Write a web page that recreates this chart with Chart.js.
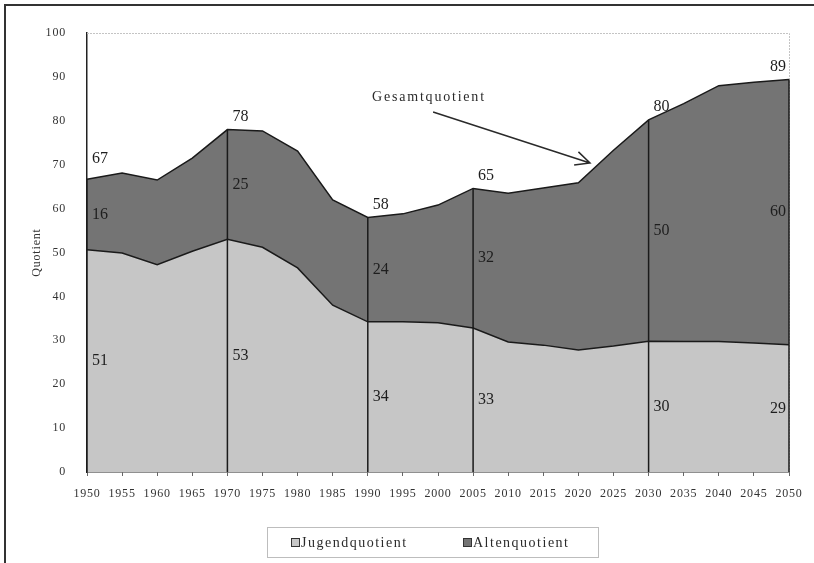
<!DOCTYPE html>
<html>
<head>
<meta charset="utf-8">
<script src="https://cdn.jsdelivr.net/npm/chart.js@4.4.1/dist/chart.umd.min.js"></script>
<style>
  html, body { margin: 0; padding: 0; background: #fff; }
  #wrap { position: relative; width: 814px; height: 563px; }
</style>
</head>
<body>
<div id="wrap"><canvas id="quotient-chart" width="814" height="563"></canvas></div>
<script>
const years = ["1950", "1955", "1960", "1965", "1970", "1975", "1980", "1985", "1990", "1995", "2000",
  "2005", "2010", "2015", "2020", "2025", "2030", "2035", "2040", "2045", "2050"];
const jugend = [50.6, 49.9, 47.2, 50.3, 53.0, 51.2, 46.5, 38.0, 34.2, 34.2, 34.0,
  32.8, 29.6, 28.9, 27.8, 28.7, 29.8, 29.7, 29.7, 29.4, 29.0];
const alten = [16.1, 18.2, 19.3, 21.2, 25.0, 26.5, 26.6, 24.0, 23.8, 24.6, 26.8,
  31.8, 33.9, 35.8, 38.1, 44.6, 50.4, 54.2, 58.3, 59.4, 60.4];
const markYears = ["1950", "1970", "1990", "2005", "2030", "2050"];
const seriesNames = ["Jugendquotient", "Altenquotient"];
const arrowText = "Gesamtquotient";

const lightFill = "#c6c6c6";
const darkFill = "#747474";
const serif = "'Liberation Serif', 'DejaVu Serif', serif";

Chart.defaults.font.family = serif;
Chart.defaults.color = "#333";

// labels, marker lines, arrow, legend
const annotations = {
  id: "annotations",
  beforeDraw(chart) {
    chart.ctx.letterSpacing = "0.8px";
  },
  afterDraw(chart) {
    const { ctx, chartArea: a, scales: { x, y } } = chart;
    ctx.save();

    // light frame top/right of plot
    ctx.strokeStyle = "#c4c4c4";
    ctx.lineWidth = 1;
    ctx.setLineDash([2, 1]);
    ctx.beginPath();
    ctx.moveTo(a.left, a.top + 0.5);
    ctx.lineTo(a.right + 0.5, a.top + 0.5);
    ctx.lineTo(a.right + 0.5, a.bottom);
    ctx.stroke();
    ctx.setLineDash([]);

    ctx.font = "16px " + serif;
    ctx.letterSpacing = "0px";
    ctx.fillStyle = "#1e1e1e";
    markYears.forEach((yr) => {
      let i = years.indexOf(yr);
      let px = x.getPixelForValue(i);
      let total = jugend[i] + alten[i];

      ctx.strokeStyle = "#1a1a1a";
      ctx.lineWidth = 1.5;
      ctx.beginPath();
      ctx.moveTo(px, y.getPixelForValue(0));
      ctx.lineTo(px, y.getPixelForValue(total));
      ctx.stroke();

      let last = i === years.length - 1;
      let tx = last ? px - 3 : px + 5;
      let lift = i === 0 ? 12 : 5;
      ctx.textAlign = last ? "right" : "left";
      ctx.textBaseline = "bottom";
      ctx.fillText(String(Math.round(total)), tx, y.getPixelForValue(total) - lift);
      ctx.textBaseline = "middle";
      ctx.fillText(String(Math.round(alten[i])), tx, y.getPixelForValue(jugend[i] + alten[i] / 2));
      ctx.fillText(String(Math.round(jugend[i])), tx, y.getPixelForValue(jugend[i] / 2));
    });

    // Gesamtquotient arrow
    ctx.font = "14px " + serif;
    ctx.letterSpacing = "1.8px";
    ctx.textAlign = "left";
    ctx.textBaseline = "alphabetic";
    ctx.fillStyle = "#2a2a2a";
    ctx.fillText(arrowText, x.getPixelForValue(8.12), y.getPixelForValue(84.5));

    let x1 = x.getPixelForValue(9.86), y1 = y.getPixelForValue(82);
    let x2 = x.getPixelForValue(14.33), y2 = y.getPixelForValue(70.4);
    let ang = Math.atan2(y2 - y1, x2 - x1);
    ctx.strokeStyle = "#2a2a2a";
    ctx.lineWidth = 1.5;
    ctx.beginPath();
    ctx.moveTo(x1, y1);
    ctx.lineTo(x2, y2);
    ctx.moveTo(x2 - 16 * Math.cos(ang - 0.45), y2 - 16 * Math.sin(ang - 0.45));
    ctx.lineTo(x2, y2);
    ctx.lineTo(x2 - 16 * Math.cos(ang + 0.45), y2 - 16 * Math.sin(ang + 0.45));
    ctx.stroke();

    // legend
    ctx.strokeStyle = "#bdbdbd";
    ctx.lineWidth = 1;
    ctx.strokeRect(267.5, 527.5, 331, 30);
    ctx.font = "14px " + serif;
    ctx.letterSpacing = "1.5px";
    ctx.textBaseline = "middle";
    [291, 463].forEach((bx, k) => {
      ctx.fillStyle = chart.data.datasets[k].backgroundColor;
      ctx.fillRect(bx, 538, 9, 9);
      ctx.strokeStyle = "#333";
      ctx.strokeRect(bx + 0.5, 538.5, 8, 8);
      ctx.fillStyle = "#2a2a2a";
      ctx.fillText(seriesNames[k], bx + 10, 543);
    });

    // outer frame
    ctx.strokeStyle = "#333";
    ctx.lineWidth = 2;
    ctx.beginPath();
    ctx.moveTo(5, 563);
    ctx.lineTo(5, 5);
    ctx.lineTo(814, 5);
    ctx.stroke();

    ctx.restore();
  },
};

const config = {
  type: "line",
  data: {
    labels: years,
    datasets: [
      {
        label: seriesNames[0],
        data: jugend,
        backgroundColor: lightFill,
        borderColor: "#1a1a1a",
        borderWidth: 1.5,
        fill: "origin",
        pointRadius: 0,
        tension: 0,
      },
      {
        label: seriesNames[1],
        data: alten,
        backgroundColor: darkFill,
        borderColor: "#1a1a1a",
        borderWidth: 1.5,
        fill: "-1",
        pointRadius: 0,
        tension: 0,
      },
    ],
  },
  options: {
    responsive: false,
    animation: false,
    layout: { padding: { left: 0, right: 25, top: 33, bottom: 51 } },
    plugins: {
      legend: { display: false },
      tooltip: { enabled: false },
    },
    scales: {
      x: {
        offset: false,
        grid: { drawOnChartArea: false, tickLength: 4, color: "#666" },
        border: { color: "#222", width: 1.5 },
        ticks: { font: { size: 12 }, padding: 11, maxRotation: 0, autoSkip: false },
        afterFit: (s) => { s.height = 40; },
      },
      y: {
        stacked: true,
        min: 0,
        max: 100,
        grid: { display: false },
        border: { color: "#222", width: 1.5 },
        ticks: { stepSize: 10, font: { size: 12 }, padding: 13 },
        title: { display: true, text: "Quotient", font: { size: 12 }, padding: { top: 30 } },
        afterFit: (s) => { s.width = 87; },
      },
    },
  },
  plugins: [annotations],
};

let chartCon = document.querySelector("#quotient-chart");
let chart = new Chart(chartCon, config);
</script>
</body>
</html>
